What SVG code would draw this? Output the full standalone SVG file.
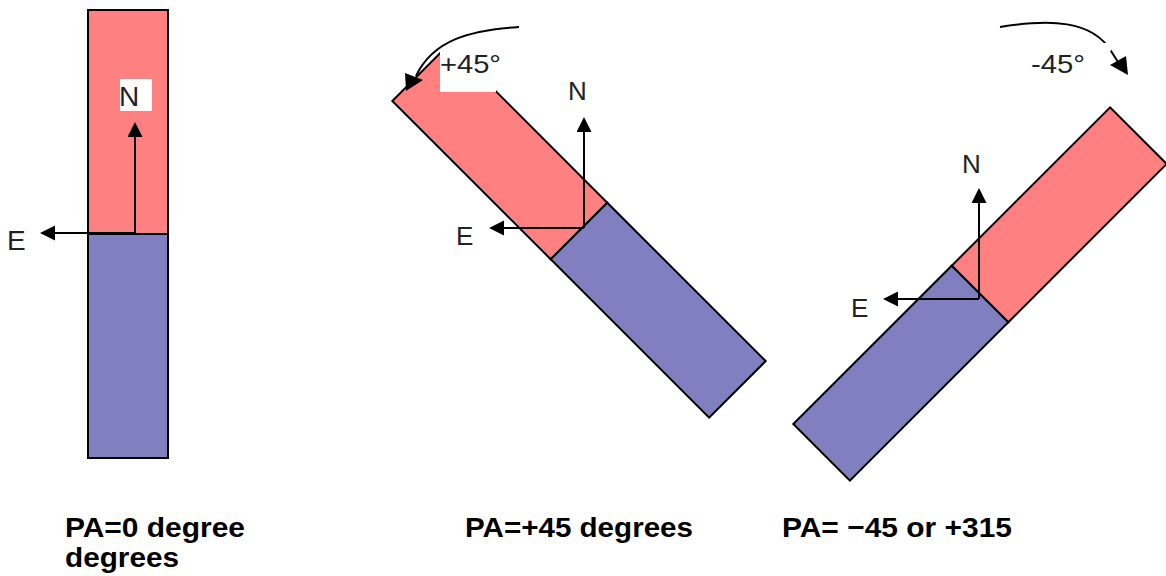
<svg xmlns="http://www.w3.org/2000/svg" width="1166" height="576" viewBox="0 0 1166 576">
<style>
.red{fill:#FF8080;stroke:#000;stroke-width:2}
.blue{fill:#8080C0;stroke:#000;stroke-width:2}
.ax{stroke:#000;stroke-width:2;fill:none}
.lbl{font-family:"Liberation Sans",Arial,sans-serif;fill:#222}
.cap{font-family:"Liberation Sans",Arial,sans-serif;font-weight:bold;font-size:28px;fill:#000}
</style>
<defs>
<marker id="ah" markerUnits="userSpaceOnUse" markerWidth="16" markerHeight="16" refX="0" refY="7.5" orient="auto">
<path d="M0,0 L15,7.5 L0,15 z" fill="#000"/>
</marker>
</defs>
<rect width="1166" height="576" fill="#fff"/>

<g id="bar-pa0">
<rect class="red" x="88" y="10" width="80" height="224"/>
<rect class="blue" x="88" y="234" width="80" height="224"/>
</g>
<g id="bar-pa45" transform="translate(579,231) rotate(-45)">
<rect class="red" x="-40" y="-224" width="80" height="224"/>
<rect class="blue" x="-40" y="0" width="80" height="224"/>
</g>
<g id="bar-pam45" transform="translate(980,294) rotate(45)">
<rect class="red" x="-40" y="-224" width="80" height="224"/>
<rect class="blue" x="-40" y="0" width="80" height="224"/>
</g>

<g id="connectors">
<line class="ax" x1="135" y1="233" x2="135" y2="137" marker-end="url(#ah)"/>
<line class="ax" x1="135" y1="233" x2="55" y2="233" marker-end="url(#ah)"/>
<line class="ax" x1="584" y1="228" x2="584" y2="132" marker-end="url(#ah)"/>
<line class="ax" x1="584" y1="228" x2="504" y2="228" marker-end="url(#ah)"/>
<line class="ax" x1="979" y1="299" x2="979" y2="203" marker-end="url(#ah)"/>
<line class="ax" x1="979" y1="299" x2="898" y2="299" marker-end="url(#ah)"/>
</g>

<g id="label-n-left">
<rect x="120" y="79" width="32" height="32" fill="#fff"/>
<text class="lbl" x="119" y="105.5" font-size="28">N</text>
</g>
<g id="label-e-left"><text class="lbl" x="7" y="250" font-size="28">E</text></g>
<g id="label-n-mid"><text class="lbl" x="568" y="100" font-size="26">N</text></g>
<g id="label-e-mid"><text class="lbl" x="456" y="245" font-size="26">E</text></g>
<g id="label-n-right"><text class="lbl" x="962" y="172.5" font-size="26">N</text></g>
<g id="label-e-right"><text class="lbl" x="851" y="316.5" font-size="26">E</text></g>

<g id="label-plus45">
<rect x="440" y="40" width="56" height="52" fill="#fff"/>
<text class="lbl" x="440" y="73" font-size="26" textLength="61" lengthAdjust="spacingAndGlyphs">+45°</text>
</g>
<g id="label-minus45">
<rect x="1028" y="42" width="83" height="46" fill="#fff"/>
<text class="lbl" x="1031" y="72.5" font-size="26" textLength="54" lengthAdjust="spacingAndGlyphs">-45°</text>
</g>

<g id="rotation-arrows">
<path class="ax" d="M519,27 C470,30 433,40 416,76"/>
<polygon points="406,91 405,73 423,80" fill="#000"/>
<path class="ax" d="M1000,27 C1050,19 1092,20 1111,51 L1118,62"/>
<polygon points="1128,75 1110,65 1126,56" fill="#000"/>
<rect x="1100" y="43" width="11" height="8" fill="#fff"/>
</g>

<g id="captions">
<text class="cap" x="65" y="537" textLength="180" lengthAdjust="spacingAndGlyphs">PA=0 degree</text>
<text class="cap" x="65" y="567" textLength="114" lengthAdjust="spacingAndGlyphs">degrees</text>
<text class="cap" x="465" y="537" textLength="228" lengthAdjust="spacingAndGlyphs">PA=+45 degrees</text>
<text class="cap" x="782" y="537" textLength="230" lengthAdjust="spacingAndGlyphs">PA= −45 or +315</text>
</g>
</svg>
